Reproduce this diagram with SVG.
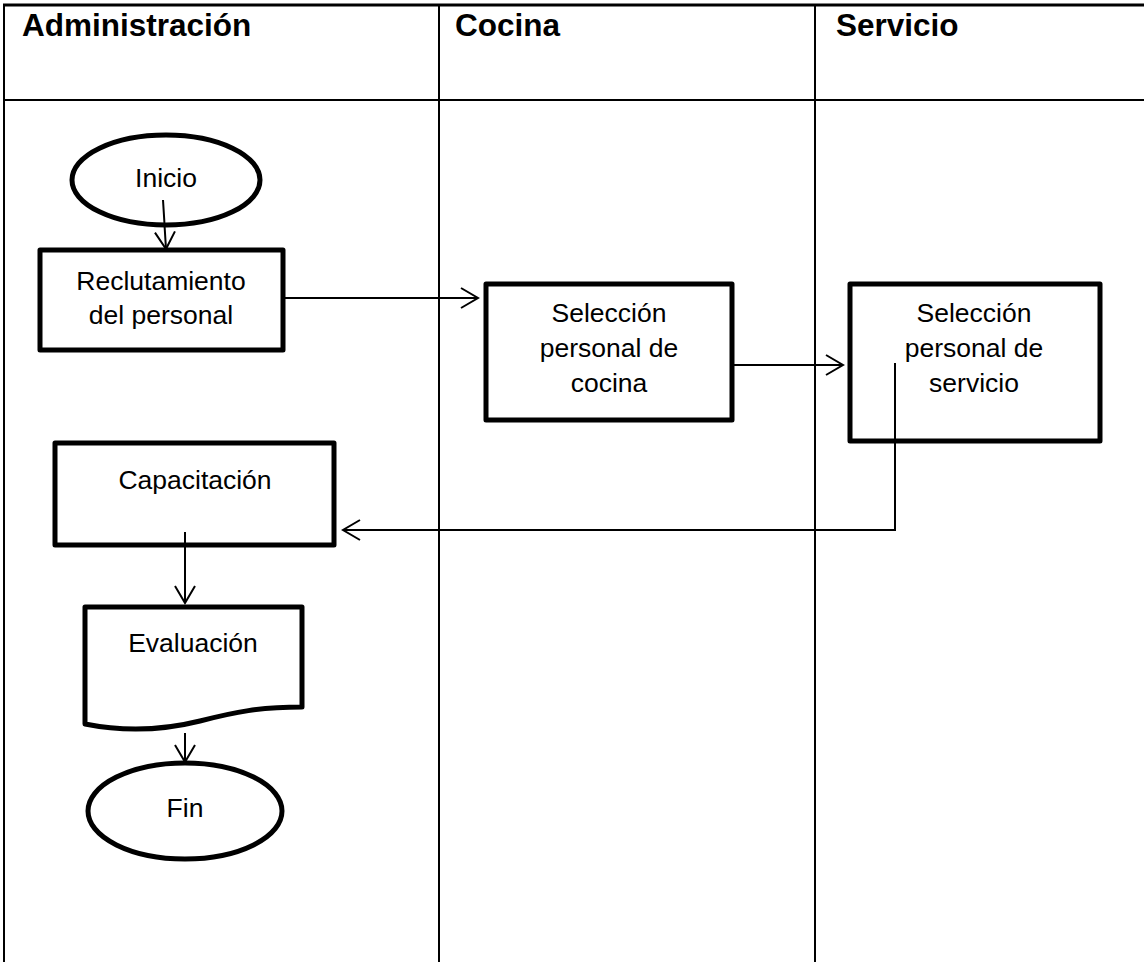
<svg xmlns="http://www.w3.org/2000/svg" width="1144" height="962" viewBox="0 0 1144 962">
<style>
.lane{stroke:#000;stroke-width:2;fill:none}
.node{fill:#fff;stroke:#000;stroke-width:5;stroke-linejoin:round}
.hdr{font-family:"Liberation Sans",Arial,sans-serif;font-weight:bold;font-size:31.5px;fill:#000}
.lbl{font-family:"Liberation Sans",Arial,sans-serif;font-size:26.5px;fill:#000;text-anchor:middle}
.conn{stroke:#000;stroke-width:2;fill:none}
</style>
<defs>
<marker id="arr" markerUnits="userSpaceOnUse" markerWidth="40" markerHeight="40" viewBox="-20 -20 40 40" refX="0" refY="0" orient="auto">
<path d="M-17,-10 L0,0 L-17,10" fill="none" stroke="#000" stroke-width="2"/>
</marker>
</defs>
<rect width="1144" height="962" fill="#fff"/>
<g id="lanes">
<line class="lane" x1="3" y1="5" x2="1144" y2="5" style="stroke-width:3"/>
<line class="lane" x1="4" y1="5" x2="4" y2="962"/>
<line class="lane" x1="4" y1="100" x2="1144" y2="100"/>
<line class="lane" x1="439" y1="5" x2="439" y2="962"/>
<line class="lane" x1="815" y1="5" x2="815" y2="962"/>
<text class="hdr" x="22" y="36">Administración</text>
<text class="hdr" x="455" y="36">Cocina</text>
<text class="hdr" x="836" y="36">Servicio</text>
</g>
<g id="inicio">
<ellipse class="node" cx="166" cy="180" rx="94" ry="45"/>
<text class="lbl" x="166" y="187">Inicio</text>
</g>
<g id="reclutamiento">
<rect class="node" x="40" y="250" width="243" height="100"/>
<text class="lbl" x="161" y="290">Reclutamiento</text>
<text class="lbl" x="161" y="324">del personal</text>
</g>
<g id="seleccion-cocina">
<rect class="node" x="486" y="284" width="246" height="136"/>
<text class="lbl" x="609" y="322">Selección</text>
<text class="lbl" x="609" y="357">personal de</text>
<text class="lbl" x="609" y="392">cocina</text>
</g>
<g id="seleccion-servicio">
<rect class="node" x="850" y="284" width="250" height="157"/>
<text class="lbl" x="974" y="322">Selección</text>
<text class="lbl" x="974" y="357">personal de</text>
<text class="lbl" x="974" y="392">servicio</text>
</g>
<g id="capacitacion">
<rect class="node" x="55" y="443" width="279" height="102"/>
<text class="lbl" x="195" y="489">Capacitación</text>
</g>
<g id="evaluacion">
<path class="node" d="M85,607 L302,607 L302,707 C260,707 235,712 200,721 C160,731 120,731 85,724 Z"/>
<text class="lbl" x="193" y="652">Evaluación</text>
</g>
<g id="fin">
<ellipse class="node" cx="185" cy="811" rx="97" ry="48"/>
<text class="lbl" x="185" y="817">Fin</text>
</g>
<g id="connectors">
<line class="conn" x1="163" y1="200" x2="166" y2="249" marker-end="url(#arr)"/>
<line class="conn" x1="283" y1="298" x2="478" y2="298" marker-end="url(#arr)"/>
<line class="conn" x1="732" y1="365" x2="843" y2="365" marker-end="url(#arr)"/>
<polyline class="conn" points="895,363 895,530 343,530" marker-end="url(#arr)"/>
<line class="conn" x1="185" y1="532" x2="185" y2="603" marker-end="url(#arr)"/>
<line class="conn" x1="185" y1="733" x2="185" y2="762" marker-end="url(#arr)"/>
</g>
</svg>
